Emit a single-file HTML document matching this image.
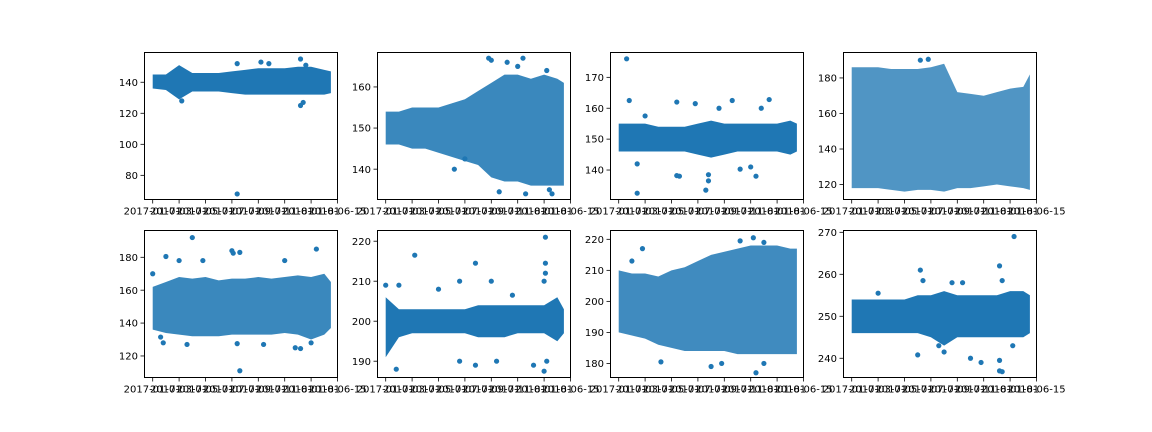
<!DOCTYPE html>
<html><head><meta charset="utf-8"><style>
html,body{margin:0;padding:0;background:#fff;}
svg{display:block;font-family:"DejaVu Sans","Liberation Sans",sans-serif;}
</style></head><body>
<svg id="fig" width="1152" height="432" viewBox="0 0 1152 432" xmlns="http://www.w3.org/2000/svg"></svg>
<script>
// Shared time samples (in tick units) for the dense band envelopes
const bandT = [0,0.5,1,1.5,2,2.5,3,3.5,4,4.5,5,5.5,6,6.5,6.75];
const xTickLabels = ['2017-01-01','2017-03-01','2017-05-01','2017-07-01','2017-09-01','2017-11-01','2018-01-01','2018-06-15'];

const p1Hi=[145,145,151,146,146,146,147,148,149,149,149,150,150,148,147];
const p1Lo=[136,135,129,134,134,134,133,132,132,132,132,132,132,132,133];
const p1Out=[[3.2,68],[5.6,155],[5.6,125],[5.7,127],[1.1,128],[3.2,152],[4.1,153],[4.4,152],[5.8,151]];
const p1Ticks=[80,100,120,140];

const p2Hi=[154,154,155,155,155,156,157,159,161,163,163,162,163,162,161];
const p2Lo=[146,146,145,145,144,143,142,141,138,137,137,136,136,136,136];
const p2Out=[[3.9,167],[4.0,166.5],[4.6,166],[5.2,167],[5.0,165],[6.1,164],[5.3,134],[6.3,134],[6.2,135],[3.0,142.5],[2.6,140],[4.3,134.5]];
const p2Ticks=[140,150,160];

const p3Hi=[155,155,155,154,154,154,155,156,155,155,155,155,155,156,155];
const p3Lo=[146,146,146,146,146,146,145,144,145,146,146,146,146,145,146];
const p3Out=[[0.3,176],[0.4,162.5],[0.7,132.5],[2.2,162],[2.9,161.5],[4.3,162.5],[5.7,162.8],[2.2,138.2],[2.3,138],[3.4,136.5],[3.3,133.5],[3.4,138.5],[5.2,138],[5.0,141],[0.7,142],[4.6,140.3],[1.0,157.5],[3.8,160],[5.4,160]];
const p3Ticks=[140,150,160,170];

const p4Hi=[186,186,186,185,185,185,186,188,172,171,170,172,174,175,182];
const p4Lo=[118,118,118,117,116,117,117,116,118,118,119,120,119,118,117];
const p4Out=[[2.6,190],[2.9,190.5]];
const p4Ticks=[120,140,160,180];

const p5Hi=[162,165,168,167,168,166,167,167,168,167,168,169,168,170,165];
const p5Lo=[136,134,133,132,132,132,133,133,133,133,134,133,130,133,137];
const p5Out=[[1.5,192],[3.0,184],[3.05,182.5],[3.3,183],[6.2,185],[0,170],[0.5,180.5],[0.4,128],[1.3,127],[3.3,111],[5.6,124.5],[5.4,125],[6.0,128],[0.3,131.5],[4.2,127],[3.2,127.5],[1.0,178],[1.9,178],[5.0,178]];
const p5Ticks=[120,140,160,180];

const p6Hi=[206,203,203,203,203,203,203,204,204,204,204,204,204,206,203];
const p6Lo=[191,196,197,197,197,197,197,196,196,196,197,197,197,195,197];
const p6Out=[[0.4,188],[1.1,216.5],[3.4,214.5],[6.05,221],[6.05,214.5],[6.05,212],[6.0,210],[0,209],[0.5,209],[2.8,210],[4.0,210],[2.8,190],[3.4,189],[5.6,189],[6.0,187.5],[6.1,190],[2.0,208],[4.2,190],[4.8,206.5]];
const p6Ticks=[190,200,210,220];

const p7Hi=[210,209,209,208,210,211,213,215,216,217,218,218,218,217,217];
const p7Lo=[190,189,188,186,185,184,184,184,184,183,183,183,183,183,183];
const p7Out=[[0.5,213],[0.9,217],[1.6,180.5],[3.5,179],[3.9,180],[5.2,177],[5.5,180],[5.1,220.5],[5.5,219],[4.6,219.5]];
const p7Ticks=[180,190,200,210,220];

const p8Hi=[254,254,254,254,254,255,255,256,255,255,255,255,256,256,255];
const p8Lo=[246,246,246,246,246,246,245,243,245,245,245,245,245,245,246];
const p8Out=[[2.6,261],[2.7,258.5],[6.15,269],[5.6,262],[5.7,258.5],[2.5,240.8],[3.3,243],[3.5,241.5],[4.5,240],[4.9,239],[5.6,237],[5.7,236.8],[5.6,239.5],[6.1,243],[3.8,258],[4.2,258],[1.0,255.5]];
const p8Ticks=[240,250,260,270];

const panels=[
 {name:'panel-1',left:144,top:52,ymin:64.1,ymax:159.5,hi:p1Hi,lo:p1Lo,out:p1Out,ticks:p1Ticks,op:1},
 {name:'panel-2',left:377,top:52,ymin:132.5,ymax:168.5,hi:p2Hi,lo:p2Lo,out:p2Out,ticks:p2Ticks,op:0.88},
 {name:'panel-3',left:610,top:52,ymin:130.3,ymax:178.2,hi:p3Hi,lo:p3Lo,out:p3Out,ticks:p3Ticks,op:1},
 {name:'panel-4',left:843,top:52,ymin:111.3,ymax:194.6,hi:p4Hi,lo:p4Lo,out:p4Out,ticks:p4Ticks,op:0.78},
 {name:'panel-5',left:144,top:230,ymin:106.6,ymax:196.6,hi:p5Hi,lo:p5Lo,out:p5Out,ticks:p5Ticks,op:0.88},
 {name:'panel-6',left:377,top:230,ymin:185.8,ymax:222.8,hi:p6Hi,lo:p6Lo,out:p6Out,ticks:p6Ticks,op:1},
 {name:'panel-7',left:610,top:230,ymin:175.3,ymax:223,hi:p7Hi,lo:p7Lo,out:p7Out,ticks:p7Ticks,op:0.85},
 {name:'panel-8',left:843,top:230,ymin:235.3,ymax:270.55,hi:p8Hi,lo:p8Lo,out:p8Out,ticks:p8Ticks,op:1}
];
const W=194,H=148,C='#1f77b4',NS='http://www.w3.org/2000/svg';
const svg=document.getElementById('fig');
function mk(tag,attrs,parent){const e=document.createElementNS(NS,tag);for(const k in attrs)e.setAttribute(k,attrs[k]);parent.appendChild(e);return e;}

panels.forEach(p=>{
  const g=mk('g',{},svg);
  
  
  const xs=t=>p.left+8.7+t*26.4;
  const ys=v=>p.top+H-(v-p.ymin)/(p.ymax-p.ymin)*H;
  const clip='clip-'+p.name;
  const cp=mk('clipPath',{id:clip},g);
  mk('rect',{x:p.left,y:p.top,width:W,height:H},cp);
  const data=mk('g',{'clip-path':'url(#'+clip+')'},g);
  let pts=[];
  bandT.forEach((t,i)=>pts.push(xs(t)+','+ys(p.hi[i])));
  for(let i=bandT.length-1;i>=0;i--)pts.push(xs(bandT[i])+','+ys(p.lo[i]));
  const band=mk('polygon',{points:pts.join(' '),fill:C,'fill-opacity':p.op},data);
  
  
  p.out.forEach(o=>{
    const c=mk('circle',{cx:xs(o[0]),cy:ys(o[1]),r:2.6,fill:C},data);
    
    
  });
  const frame=mk('rect',{x:p.left+0.5,y:p.top+0.5,width:W-1,height:H-1,fill:'none',stroke:'#000','stroke-width':1},g);
  
  
  xTickLabels.forEach((lab,i)=>{
    const x=xs(i);
    mk('line',{x1:x,x2:x,y1:p.top+H,y2:p.top+H+3.5,stroke:'#000','stroke-width':0.8},g);
    const t=mk('text',{x:x,y:p.top+H+14.5,'font-size':10,'text-anchor':'middle',fill:'#000'},g);
    t.textContent=lab;
    
    
  });
  p.ticks.forEach(v=>{
    const y=ys(v);
    mk('line',{x1:p.left-3.5,x2:p.left,y1:y,y2:y,stroke:'#000','stroke-width':0.8},g);
    const t=mk('text',{x:p.left-6,y:y+3.6,'font-size':10,'text-anchor':'end',fill:'#000'},g);
    t.textContent=v;
    
    
  });
});
</script>
</body></html>
